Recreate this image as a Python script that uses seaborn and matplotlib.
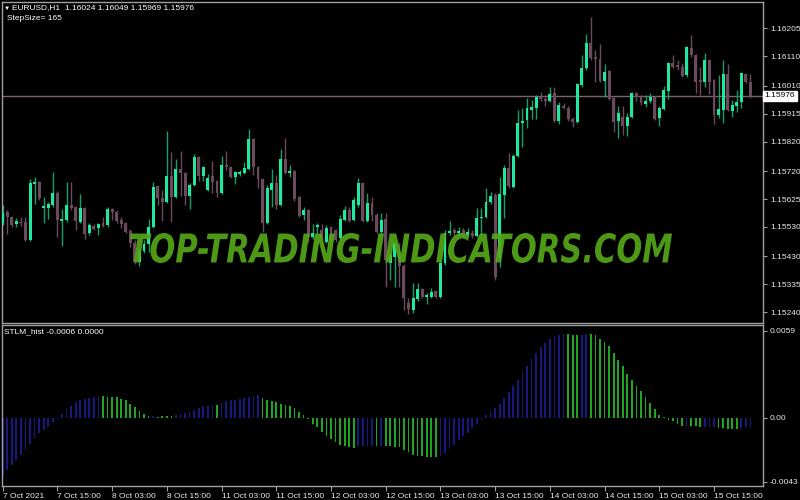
import matplotlib
matplotlib.use("Agg")
import numpy as np
import pandas as pd
import matplotlib.pyplot as plt
import seaborn as sns
from matplotlib.textpath import TextPath
from matplotlib.patches import PathPatch
from matplotlib.font_manager import FontProperties
from matplotlib.transforms import Affine2D, blended_transform_factory

# ---------------- data (EURUSD H1, 7 Oct 03:00 .. 15 Oct) ----------------
opens = [1.15543, 1.15580, 1.15563, 1.15539, 1.15546, 1.15546, 1.15485, 1.15675, 1.15682, 1.15594,
         1.15594, 1.15604, 1.15645, 1.15550, 1.15553, 1.15604, 1.15597, 1.15546, 1.15594, 1.15509,
         1.15533, 1.15526, 1.15543, 1.15536, 1.15590, 1.15580, 1.15553, 1.15543, 1.15516, 1.15475,
         1.15410, 1.15448, 1.15471, 1.15529, 1.15669, 1.15628, 1.15614, 1.15703, 1.15631, 1.15726,
         1.15713, 1.15635, 1.15672, 1.15767, 1.15703, 1.15655, 1.15703, 1.15686, 1.15645, 1.15740,
         1.15733, 1.15699, 1.15709, 1.15713, 1.15726, 1.15828, 1.15733, 1.15692, 1.15543, 1.15655,
         1.15679, 1.15604, 1.15760, 1.15713, 1.15720, 1.15631, 1.15570, 1.15587, 1.15495, 1.15529,
         1.15519, 1.15478, 1.15529, 1.15519, 1.15492, 1.15553, 1.15587, 1.15553, 1.15604, 1.15679,
         1.15550, 1.15611, 1.15570, 1.15512, 1.15556, 1.15407, 1.15427, 1.15431, 1.15397, 1.15271,
         1.15247, 1.15284, 1.15318, 1.15291, 1.15291, 1.15312, 1.15291, 1.15407, 1.15509, 1.15519,
         1.15509, 1.15519, 1.15502, 1.15509, 1.15499, 1.15560, 1.15563, 1.15614, 1.15638, 1.15424,
         1.15638, 1.15730, 1.15665, 1.15771, 1.15883, 1.15893, 1.15927, 1.15934, 1.15971, 1.15964,
         1.15958, 1.15985, 1.15890, 1.15941, 1.15934, 1.15896, 1.15886, 1.16012, 1.16070, 1.16155,
         1.16107, 1.16100, 1.16026, 1.16060, 1.15968, 1.15890, 1.15903, 1.15873, 1.15903, 1.15985,
         1.15971, 1.15947, 1.15958, 1.15971, 1.15900, 1.15930, 1.15992, 1.16087, 1.16080, 1.16073,
         1.16046, 1.16138, 1.16114, 1.16029, 1.16022, 1.16097, 1.16029, 1.15910, 1.15927, 1.16049,
         1.15924, 1.15941, 1.15954, 1.16049, 1.16024]
highs = [1.15604, 1.15587, 1.15567, 1.15560, 1.15563, 1.15563, 1.15692, 1.15699, 1.15686, 1.15631,
         1.15614, 1.15716, 1.15652, 1.15590, 1.15682, 1.15682, 1.15601, 1.15641, 1.15597, 1.15543,
         1.15539, 1.15543, 1.15563, 1.15597, 1.15594, 1.15587, 1.15563, 1.15546, 1.15522, 1.15485,
         1.15458, 1.15485, 1.15556, 1.15682, 1.15672, 1.15655, 1.15856, 1.15784, 1.15760, 1.15788,
         1.15716, 1.15679, 1.15777, 1.15771, 1.15737, 1.15709, 1.15754, 1.15689, 1.15771, 1.15788,
         1.15737, 1.15720, 1.15723, 1.15750, 1.15862, 1.15832, 1.15737, 1.15696, 1.15672, 1.15726,
         1.15706, 1.15794, 1.15832, 1.15740, 1.15723, 1.15635, 1.15597, 1.15590, 1.15539, 1.15543,
         1.15539, 1.15536, 1.15533, 1.15522, 1.15570, 1.15601, 1.15597, 1.15631, 1.15696, 1.15682,
         1.15645, 1.15631, 1.15577, 1.15577, 1.15577, 1.15441, 1.15478, 1.15475, 1.15403, 1.15288,
         1.15339, 1.15339, 1.15322, 1.15305, 1.15322, 1.15315, 1.15417, 1.15519, 1.15550, 1.15526,
         1.15529, 1.15526, 1.15526, 1.15519, 1.15594, 1.15594, 1.15662, 1.15648, 1.15645, 1.15699,
         1.15740, 1.15781, 1.15777, 1.15927, 1.15934, 1.15968, 1.15961, 1.15978, 1.15988, 1.15978,
         1.16005, 1.16005, 1.15954, 1.15951, 1.15941, 1.15903, 1.16019, 1.16114, 1.16185, 1.16243,
         1.16131, 1.16151, 1.16083, 1.16063, 1.15971, 1.15941, 1.15941, 1.15917, 1.15988, 1.15988,
         1.15978, 1.15978, 1.15985, 1.15975, 1.15941, 1.16009, 1.16090, 1.16114, 1.16097, 1.16087,
         1.16145, 1.16182, 1.16117, 1.16073, 1.16121, 1.16100, 1.16032, 1.16046, 1.16097, 1.16083,
         1.15961, 1.15995, 1.16056, 1.16053, 1.16049]
lows = [1.15536, 1.15505, 1.15529, 1.15529, 1.15533, 1.15482, 1.15482, 1.15607, 1.15621, 1.15543,
        1.15556, 1.15597, 1.15495, 1.15465, 1.15546, 1.15587, 1.15519, 1.15543, 1.15488, 1.15502,
        1.15519, 1.15502, 1.15529, 1.15529, 1.15553, 1.15543, 1.15526, 1.15509, 1.15461, 1.15403,
        1.15397, 1.15441, 1.15444, 1.15526, 1.15604, 1.15550, 1.15611, 1.15546, 1.15628, 1.15635,
        1.15604, 1.15590, 1.15669, 1.15686, 1.15686, 1.15652, 1.15645, 1.15631, 1.15641, 1.15723,
        1.15696, 1.15675, 1.15703, 1.15709, 1.15723, 1.15706, 1.15662, 1.15512, 1.15539, 1.15597,
        1.15590, 1.15601, 1.15709, 1.15699, 1.15618, 1.15563, 1.15553, 1.15478, 1.15488, 1.15502,
        1.15485, 1.15475, 1.15482, 1.15478, 1.15488, 1.15550, 1.15546, 1.15550, 1.15597, 1.15546,
        1.15546, 1.15550, 1.15509, 1.15502, 1.15325, 1.15349, 1.15325, 1.15325, 1.15247, 1.15233,
        1.15237, 1.15278, 1.15288, 1.15267, 1.15288, 1.15288, 1.15288, 1.15400, 1.15502, 1.15499,
        1.15502, 1.15495, 1.15495, 1.15492, 1.15495, 1.15502, 1.15560, 1.15607, 1.15349, 1.15393,
        1.15560, 1.15662, 1.15662, 1.15767, 1.15801, 1.15866, 1.15896, 1.15896, 1.15958, 1.15941,
        1.15954, 1.15886, 1.15879, 1.15930, 1.15890, 1.15869, 1.15883, 1.16005, 1.16063, 1.16097,
        1.16022, 1.16022, 1.15971, 1.15961, 1.15852, 1.15832, 1.15842, 1.15839, 1.15900, 1.15958,
        1.15944, 1.15937, 1.15951, 1.15893, 1.15873, 1.15927, 1.15964, 1.16070, 1.16063, 1.16039,
        1.16039, 1.16107, 1.15985, 1.15978, 1.16005, 1.15981, 1.15879, 1.15900, 1.15883, 1.15924,
        1.15903, 1.15920, 1.15934, 1.16019, 1.15969]
closes = [1.15577, 1.15563, 1.15536, 1.15550, 1.15543, 1.15485, 1.15679, 1.15682, 1.15628, 1.15601,
          1.15607, 1.15645, 1.15553, 1.15556, 1.15604, 1.15594, 1.15550, 1.15594, 1.15505, 1.15536,
          1.15522, 1.15539, 1.15533, 1.15590, 1.15580, 1.15550, 1.15539, 1.15512, 1.15475, 1.15410,
          1.15444, 1.15471, 1.15529, 1.15665, 1.15628, 1.15614, 1.15703, 1.15631, 1.15726, 1.15713,
          1.15635, 1.15672, 1.15767, 1.15703, 1.15733, 1.15696, 1.15682, 1.15645, 1.15740, 1.15733,
          1.15699, 1.15716, 1.15716, 1.15730, 1.15828, 1.15733, 1.15692, 1.15543, 1.15662, 1.15679,
          1.15604, 1.15760, 1.15713, 1.15720, 1.15624, 1.15567, 1.15587, 1.15495, 1.15509, 1.15536,
          1.15492, 1.15526, 1.15485, 1.15485, 1.15556, 1.15587, 1.15550, 1.15621, 1.15679, 1.15550,
          1.15611, 1.15570, 1.15512, 1.15553, 1.15417, 1.15434, 1.15475, 1.15397, 1.15288, 1.15250,
          1.15288, 1.15318, 1.15291, 1.15298, 1.15308, 1.15291, 1.15407, 1.15509, 1.15516, 1.15509,
          1.15516, 1.15502, 1.15512, 1.15499, 1.15560, 1.15563, 1.15614, 1.15635, 1.15359, 1.15641,
          1.15730, 1.15669, 1.15771, 1.15883, 1.15890, 1.15934, 1.15937, 1.15971, 1.15964, 1.15958,
          1.15981, 1.15890, 1.15944, 1.15934, 1.15896, 1.15886, 1.16015, 1.16070, 1.16155, 1.16104,
          1.16100, 1.16026, 1.16056, 1.15964, 1.15886, 1.15917, 1.15873, 1.15903, 1.15985, 1.15971,
          1.15951, 1.15958, 1.15971, 1.15896, 1.15934, 1.15995, 1.16087, 1.16073, 1.16073, 1.16043,
          1.16141, 1.16114, 1.16022, 1.16022, 1.16097, 1.16022, 1.15910, 1.15930, 1.16049, 1.15927,
          1.15944, 1.15954, 1.16053, 1.16022, 1.15976]

stlm_hist = [-0.00394, -0.00349, -0.00315, -0.00282, -0.00248, -0.00214, -0.00174, -0.00135, -0.00101, -0.00079,
             -0.00061, -0.00029, -0.00007, 0.00027, 0.00061, 0.00083, 0.00106, 0.00124, 0.00131, 0.00135,
             0.00140, 0.00142, 0.00147, 0.00145, 0.00142, 0.00140, 0.00128, 0.00119, 0.00097, 0.00072,
             0.00045, 0.00027, 0.00011, 0.00014, 0.00009, 0.00011, 0.00014, 0.00016, 0.00023, 0.00029,
             0.00034, 0.00040, 0.00056, 0.00068, 0.00079, 0.00083, 0.00086, 0.00090, 0.00101, 0.00113,
             0.00119, 0.00124, 0.00128, 0.00135, 0.00142, 0.00151, 0.00156, 0.00135, 0.00124, 0.00117,
             0.00106, 0.00095, 0.00090, 0.00079, 0.00068, 0.00038, 0.00018, -0.00007, -0.00038, -0.00063,
             -0.00097, -0.00119, -0.00142, -0.00165, -0.00180, -0.00192, -0.00198, -0.00203, -0.00192, -0.00187,
             -0.00187, -0.00187, -0.00187, -0.00187, -0.00192, -0.00192, -0.00196, -0.00196, -0.00214, -0.00232,
             -0.00248, -0.00255, -0.00259, -0.00264, -0.00266, -0.00266, -0.00259, -0.00237, -0.00210, -0.00180,
             -0.00151, -0.00124, -0.00101, -0.00068, -0.00038, -0.00016, 0.00023, 0.00045, 0.00068, 0.00097,
             0.00135, 0.00174, 0.00214, 0.00259, 0.00309, 0.00354, 0.00399, 0.00439, 0.00480, 0.00507,
             0.00536, 0.00552, 0.00563, 0.00568, 0.00568, 0.00563, 0.00559, 0.00563, 0.00568, 0.00568,
             0.00563, 0.00536, 0.00512, 0.00485, 0.00439, 0.00394, 0.00349, 0.00300, 0.00259, 0.00219,
             0.00180, 0.00142, 0.00101, 0.00061, 0.00023, 0.00005, -0.00011, -0.00023, -0.00038, -0.00052,
             -0.00052, -0.00056, -0.00056, -0.00061, -0.00061, -0.00061, -0.00061, -0.00068, -0.00068, -0.00074,
             -0.00074, -0.00074, -0.00068, -0.00061, -0.00061]
# bar colour state: B = blue, G = green
stlm_state = ("BBBBBBBBBBBBBBBBBBBBBB" "GGGGGGGGGGG" "B" "GGGG" "BBBBBBBBB" "G" "BBBBBBBBB"
              "GGGGGGGGGGGGGGGGGGGGG" "BBBB" "G" "B" "GGGGGGGGGGGG" "BBBBBBBBBBBBBBBBBBBBBBBBBBBB"
              "GGG" "BB" "GGGGGGGGGGGGGGGGGGGGG" "B" "GGG" "BBB" "GGGGG" "BBB")

time_label_bars = [0, 12, 24, 36, 48, 60, 72, 84, 96, 108, 120, 132, 144, 156]
time_labels = ["7 Oct 2021", "7 Oct 15:00", "8 Oct 03:00", "8 Oct 15:00", "11 Oct 03:00",
               "11 Oct 15:00", "12 Oct 03:00", "12 Oct 15:00", "13 Oct 03:00", "13 Oct 15:00",
               "14 Oct 03:00", "14 Oct 15:00", "15 Oct 03:00", "15 Oct 15:00"]
price_ticks = [1.16205, 1.16110, 1.16010, 1.15915, 1.15820, 1.15720, 1.15625,
               1.15530, 1.15430, 1.15335, 1.15240]
last_price = 1.15976
hist_ticks = [0.0059, 0.0, -0.0043]
hist_tick_labels = ["0.0059", "0.00", "-0.0043"]
header = "EURUSD,H1  1.16024 1.16049 1.15969 1.15976"
sub_header = "StepSize= 165"
hist_header = "STLM_hist -0.0006 0.0000"
watermark = "TOP-TRADING-INDICATORS.COM"

# ---------------- style ----------------
sns.set_theme(style="dark", rc={"axes.facecolor": "black", "figure.facecolor": "black",
                                "axes.grid": False, "savefig.facecolor": "black"})
plt.rcParams["font.family"] = ["Liberation Sans", "DejaVu Sans"]

UP, UP_WICK = "#20e8a0", "#12a06a"
DN, DN_WICK = "#6b4a5e", "#6b4a5e"
BLUE, GREEN = "#18187e", "#1fa51f"
FRAME = "#a0a0a0"
TXT = "#e8e8e8"
FS = 6.0

W, H = 800, 500
fig = plt.figure(figsize=(8, 5), dpi=100, facecolor="black")


def fx(px):
    return px / W


def fy(py):
    return 1 - py / H


ax = fig.add_axes([fx(2), fy(323), fx(763) - fx(2), fy(2) - fy(323)])
axh = fig.add_axes([fx(2), fy(486), fx(763) - fx(2), fy(325) - fy(486)])

n = len(closes)
df = pd.DataFrame({"bar": np.arange(n), "open": opens, "high": highs,
                   "low": lows, "close": closes})
bull = (df["close"] >= df["open"]).to_numpy()
body_lo = np.minimum(df["open"], df["close"]).to_numpy()
body_h = np.maximum(np.abs(df["close"] - df["open"]).to_numpy(), 0.00002)

ax.axhline(last_price, color="#7a6470", lw=1, zorder=1)
ax.vlines(df["bar"], df["low"], df["high"], colors=np.where(bull, UP_WICK, DN_WICK),
          linewidth=1, zorder=2)
ax.bar(df["bar"], body_h, bottom=body_lo, width=0.64,
       color=np.where(bull, UP, DN), linewidth=0, zorder=3)

XL = (-0.15, 166.75)
ax.set_xlim(*XL)
ax.set_ylim(1.15204, 1.16294)
ax.yaxis.tick_right()
ax.set_yticks(price_ticks)
ax.set_yticklabels([f"{v:.5f}" for v in price_ticks])
ax.tick_params(axis="y", right=True, left=False, length=3, width=0.8, color=FRAME,
               labelcolor=TXT, labelsize=FS, pad=2, direction="out")
ax.tick_params(axis="x", bottom=False, labelbottom=False)
ax.set_xlabel("")
ax.set_ylabel("")

trb = blended_transform_factory(ax.transAxes, ax.transData)
ax.text(1 + 1.5 / 761, last_price, f"{last_price:.5f}", transform=trb, ha="left", va="center",
        fontsize=FS, color="black", zorder=6,
        bbox=dict(boxstyle="square,pad=0.18", fc="white", ec="white"))

# ---------------- histogram (seaborn) ----------------
hdf = pd.DataFrame({"bar": np.arange(n), "value": stlm_hist,
                    "state": list(stlm_state[:n].ljust(n, "B"))})
sns.barplot(data=hdf, x="bar", y="value", hue="state", palette={"B": BLUE, "G": GREEN},
            native_scale=True, dodge=False, width=0.38, linewidth=0, errorbar=None,
            legend=False, saturation=1, ax=axh)
axh.set_xlim(*XL)
axh.set_ylim(-0.0046, 0.006287)
axh.set_xlabel("")
axh.set_ylabel("")
axh.yaxis.tick_right()
axh.set_yticks(hist_ticks)
axh.set_yticklabels(hist_tick_labels)
axh.tick_params(axis="y", right=True, left=False, length=3, width=0.8, color=FRAME,
                labelcolor=TXT, labelsize=FS, pad=2, direction="out")
axh.set_xticks(time_label_bars)
axh.set_xticklabels(time_labels, ha="left")
axh.tick_params(axis="x", bottom=True, length=3.5, width=0.8, color=FRAME,
                labelcolor=TXT, labelsize=FS, pad=1.5, direction="out")

for a in (ax, axh):
    a.grid(False)
    for s in a.spines.values():
        s.set_visible(True)
        s.set_color(FRAME)
        s.set_linewidth(1)

# ---------------- texts ----------------
fig.text(fx(3.5), fy(8), "\u25bc", fontsize=4.5, color="white", va="center", ha="left")
fig.text(fx(12), fy(8), header, fontsize=FS, color="white", va="center", ha="left")
fig.text(fx(7), fy(18), sub_header, fontsize=FS, color="white", va="center", ha="left")
fig.text(fx(4), fy(332), hist_header, fontsize=FS, color="white", va="center", ha="left")

# watermark, stretched to its box
fp = FontProperties(family="DejaVu Sans", weight="bold", style="italic")
tp = TextPath((0, 0), watermark, size=40, prop=fp)
bb = tp.get_extents()
x0, x1, ytop, ybot = 130, 672, 233, 263
sx = (x1 - x0) / bb.width / 100.0
sy = (ybot - ytop) / bb.height / 100.0
tr = (Affine2D().translate(-bb.x0, -bb.y0).scale(sx, sy)
      .translate(x0 / 100.0, (H - ybot) / 100.0) + fig.dpi_scale_trans)
fig.add_artist(PathPatch(tp, transform=tr, facecolor="#56aa18", edgecolor="none",
                         alpha=0.9, zorder=10))

fig.savefig("out.png", dpi=100, facecolor="black")
